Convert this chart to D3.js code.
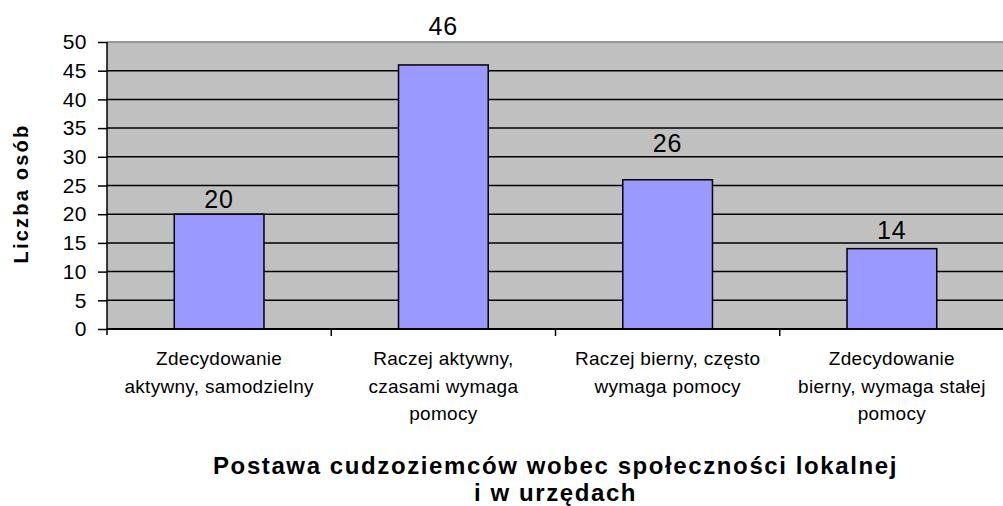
<!DOCTYPE html>
<html>
<head>
<meta charset="utf-8">
<script src="https://cdn.jsdelivr.net/npm/d3@7"></script>
<style>
  body { margin: 0; background: #fff; }
  svg { display: block; font-family: "Liberation Sans", Arial, sans-serif; }
</style>
</head>
<body>
<svg id="chart" width="1003" height="506"></svg>
<script>
const categories = [
  ["Zdecydowanie", "aktywny, samodzielny"],
  ["Raczej aktywny,", "czasami wymaga", "pomocy"],
  ["Raczej bierny, często", "wymaga pomocy"],
  ["Zdecydowanie", "bierny, wymaga stałej", "pomocy"]
];
const values = [20, 46, 26, 14];
const yTicks = [0, 5, 10, 15, 20, 25, 30, 35, 40, 45, 50];
const yTitle = "Liczba osób";
const xTitle = ["Postawa cudzoziemców wobec społeczności lokalnej", "i w urzędach"];

// gap between bar top and value label, as in the source picture
const labelGap = [6, 30, 28, 10];

const width = 1003, height = 506;
const plot = { left: 107, right: 1004, top: 42, bottom: 329 };

const svg = d3.select("#chart");

const x = d3.scaleBand()
  .domain(d3.range(values.length))
  .range([plot.left, plot.right])
  .paddingInner(0.6)
  .paddingOuter(0.3);

const xEdge = d3.scaleLinear()
  .domain([0, values.length])
  .range([plot.left, plot.right]);

const y = d3.scaleLinear().domain([0, 50]).range([plot.bottom, plot.top]);

// plot background
svg.append("rect")
  .attr("x", plot.left)
  .attr("y", plot.top)
  .attr("width", plot.right - plot.left)
  .attr("height", plot.bottom - plot.top)
  .attr("fill", "#c0c0c0");

// grid lines
svg.append("g")
  .selectAll("line")
  .data(yTicks.filter((d) => d > 0))
  .enter()
  .append("line")
  .attr("x1", plot.left)
  .attr("x2", plot.right)
  .attr("y1", (d) => y(d))
  .attr("y2", (d) => y(d))
  .attr("stroke", (d) => (d === 50 ? "#808080" : "#000"))
  .attr("stroke-width", 1.5);

// bars
svg.append("g")
  .selectAll("rect")
  .data(values)
  .enter()
  .append("rect")
  .attr("x", (d, i) => x(i))
  .attr("y", (d) => y(d))
  .attr("width", x.bandwidth())
  .attr("height", (d) => y(0) - y(d))
  .attr("fill", "#9999ff")
  .attr("stroke", "#000")
  .attr("stroke-width", 1.5);

// value labels
svg.append("g")
  .selectAll("text")
  .data(values)
  .enter()
  .append("text")
  .attr("x", (d, i) => x(i) + x.bandwidth() / 2)
  .attr("y", (d, i) => y(d) - labelGap[i])
  .attr("text-anchor", "middle")
  .attr("font-size", 25)
  .attr("letter-spacing", 1)
  .attr("fill", "#000")
  .text((d) => d);

// y axis
const yAxis = svg.append("g")
  .attr("transform", `translate(${plot.left},0)`)
  .call(d3.axisLeft(y).tickValues(yTicks).tickSize(9).tickPadding(11));
yAxis.select(".domain").attr("stroke", "#000").attr("stroke-width", 1.5)
  .attr("d", `M0,${plot.top}V${plot.bottom + 6}`);
yAxis.selectAll(".tick line").attr("stroke", "#000").attr("stroke-width", 1.5);
yAxis.selectAll(".tick text")
  .attr("font-family", "Liberation Sans, Arial, sans-serif")
  .attr("font-size", 21)
  .attr("letter-spacing", 0.5)
  .attr("fill", "#000");

// x axis
svg.append("line")
  .attr("x1", plot.left)
  .attr("x2", plot.right)
  .attr("y1", plot.bottom)
  .attr("y2", plot.bottom)
  .attr("stroke", "#000")
  .attr("stroke-width", 2);

svg.append("g")
  .selectAll("line")
  .data(d3.range(1, values.length))
  .enter()
  .append("line")
  .attr("x1", (d) => xEdge(d))
  .attr("x2", (d) => xEdge(d))
  .attr("y1", plot.bottom)
  .attr("y2", plot.bottom + 7)
  .attr("stroke", "#000")
  .attr("stroke-width", 1.5);

// category labels
const catLabels = svg.append("g")
  .selectAll("text")
  .data(categories)
  .enter()
  .append("text")
  .attr("x", (d, i) => x(i) + x.bandwidth() / 2)
  .attr("y", 365)
  .attr("text-anchor", "middle")
  .attr("font-size", 19)
  .attr("letter-spacing", 0.3)
  .attr("fill", "#000");

catLabels.selectAll("tspan")
  .data((d) => d)
  .enter()
  .append("tspan")
  .attr("x", function () { return this.parentNode.getAttribute("x"); })
  .attr("dy", (d, i) => (i === 0 ? 0 : 27.5))
  .text((d) => d);

// y axis title
svg.append("text")
  .attr("transform", `translate(28,${(plot.top + plot.bottom) / 2 + 8}) rotate(-90)`)
  .attr("text-anchor", "middle")
  .attr("font-size", 20)
  .attr("font-weight", "bold")
  .attr("letter-spacing", 2.2)
  .text(yTitle);

// x axis title
svg.append("g")
  .selectAll("text")
  .data(xTitle)
  .enter()
  .append("text")
  .attr("x", (plot.left + plot.right) / 2)
  .attr("y", (d, i) => 474 + i * 27)
  .attr("text-anchor", "middle")
  .attr("font-size", 24)
  .attr("font-weight", "bold")
  .attr("letter-spacing", 1.6)
  .text((d) => d);
</script>
</body>
</html>
